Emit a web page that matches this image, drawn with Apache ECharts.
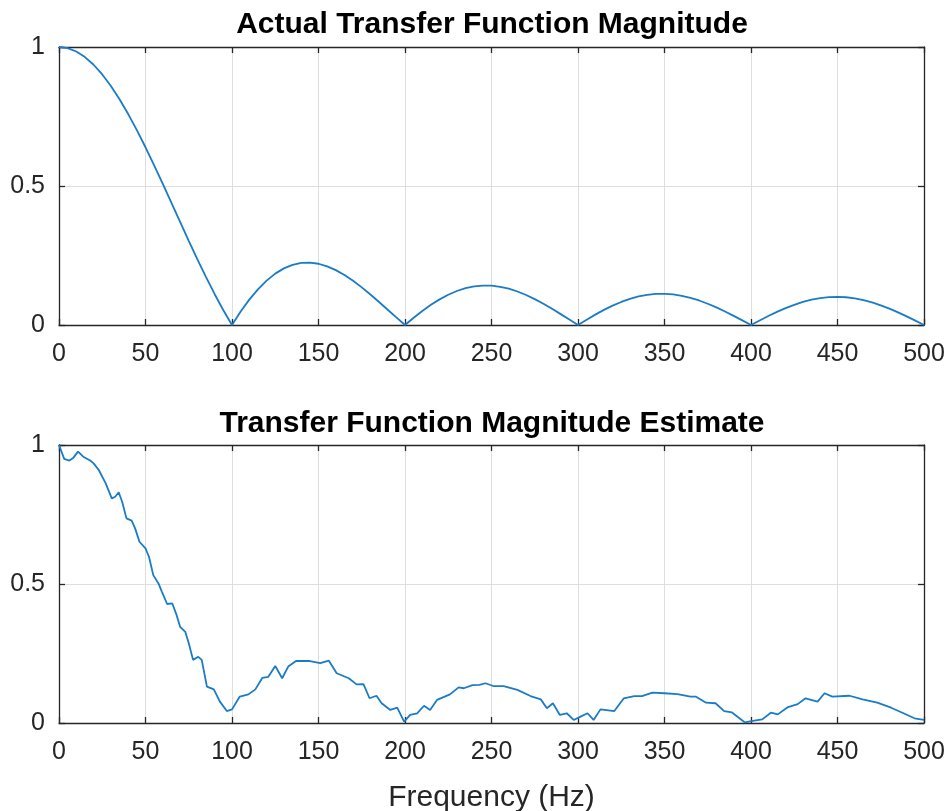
<!DOCTYPE html>
<html><head><meta charset="utf-8">
<script src="https://cdn.jsdelivr.net/npm/echarts@6/dist/echarts.min.js"></script>
<style>html,body{margin:0;padding:0;background:#fff}#c{width:951px;height:811px}</style>
</head><body><div id="c"></div><script>
const actualFreq = [0,5,10,15,20,25,30,35,40,45,50,55,60,65,70,75,80,85,90,95,100,
105,110,115,120,125,130,135,140,145,150,155,160,165,170,175,180,185,190,195,200,
205,210,215,220,225,230,235,240,245,250,255,260,265,270,275,280,285,290,295,300,
305,310,315,320,325,330,335,340,345,350,355,360,365,370,375,380,385,390,395,400,
405,410,415,420,425,430,435,440,445,450,455,460,465,470,475,480,485,490,495,500];
const actualMag = [1,0.9959,0.9838,0.9638,0.9361,0.9012,0.8597,0.8120,0.7588,0.7010,0.6393,0.5745,0.5076,0.4394,0.3709,0.3029,0.2364,0.1721,0.1108,0.0532,0,
0.0483,0.0912,0.1284,0.1597,0.1848,0.2037,0.2165,0.2234,0.2245,0.2203,0.2111,0.1974,0.1798,0.1589,0.1353,0.1097,0.0827,0.0550,0.0272,0,
0.0261,0.0504,0.0726,0.0922,0.1089,0.1223,0.1324,0.1389,0.1419,0.1414,0.1375,0.1305,0.1205,0.1079,0.0930,0.0763,0.0582,0.0391,0.0196,0,
0.0191,0.0374,0.0543,0.0696,0.0829,0.0940,0.1026,0.1085,0.1118,0.1122,0.1100,0.1051,0.0978,0.0882,0.0765,0.0632,0.0485,0.0328,0.0165,0,
0.0164,0.0322,0.0471,0.0607,0.0727,0.0829,0.0910,0.0968,0.1003,0.1013,0.0998,0.0959,0.0896,0.0813,0.0709,0.0589,0.0455,0.0309,0.0157,0];
const estFreq = [0,3,6,8,11,14,18,20,23,27,30.5,32.5,34.5,36.5,39,42,44,46.5,50,52,54.5,57.5,59.5,62.5,65.5,68,70,73,75,77.5,80.5,82.5,85.5,89.5,93,97,100,
104.5,109.5,113.5,117.5,121,125,129,132.5,137,145,151,156,160.5,167.5,172,176,179.5,183.5,186.5,191.5,195.5,199.5,
203,207,211,214.5,218.5,226,231,234,239,243,246.5,251,257,265,272.5,278.5,282,285.5,289.5,293.5,297.5,
301.5,305.5,309,313,321,326.5,332.5,337,343,350,357.5,365,368,374,379.5,384.5,389,396.5,
401,406.5,411.5,415.5,421,427,431.5,438.5,442.5,447,457,464.5,473,481,487.5,494.5,500];
const estMag = [1.0,0.95,0.944,0.952,0.976,0.958,0.944,0.934,0.91,0.862,0.808,0.814,0.83,0.796,0.736,0.728,0.70,0.652,0.628,0.598,0.532,0.502,0.472,0.428,0.43,0.388,0.346,0.328,0.287,0.227,0.238,0.227,0.131,0.121,0.077,0.043,0.049,
0.095,0.103,0.121,0.162,0.166,0.205,0.161,0.203,0.223,0.223,0.215,0.224,0.179,0.161,0.139,0.14,0.089,0.098,0.071,0.047,0.055,0.005,
0.029,0.035,0.062,0.047,0.083,0.103,0.128,0.125,0.136,0.137,0.143,0.133,0.133,0.119,0.097,0.085,0.053,0.071,0.029,0.035,0.011,
0.023,0.035,0.011,0.049,0.043,0.089,0.097,0.097,0.109,0.107,0.104,0.095,0.095,0.073,0.071,0.043,0.038,0.002,
0.008,0.013,0.037,0.031,0.056,0.068,0.089,0.077,0.107,0.095,0.098,0.085,0.073,0.055,0.037,0.017,0.011];
const titles = ['Actual Transfer Function Magnitude', 'Transfer Function Magnitude Estimate'];
const xLabel = 'Frequency (Hz)';

const FONT = '"Liberation Sans", Arial, Helvetica, sans-serif';
const AXC = '#262626';
const GRIDC = '#dedede';
const LINEC = '#1a7cc6';
const grids = [
  {left: 59, top: 47, width: 865, height: 278, outerBoundsMode: 'none', containLabel: false},
  {left: 59, top: 445, width: 865, height: 278, outerBoundsMode: 'none', containLabel: false}
];
function pairs(xs, ys) { return xs.map((x, i) => [x, ys[i]]); }

const xAxes = [], yAxes = [];
grids.forEach((g, i) => {
  xAxes.push({
    type: 'value', gridIndex: i, min: 0, max: 500, interval: 50, position: 'bottom',
    axisLine: {show: true, onZero: false, lineStyle: {color: AXC, width: 1.3}},
    axisTick: {show: true, inside: true, length: 6, lineStyle: {color: AXC, width: 1.3}},
    axisLabel: {show: true, color: AXC, fontSize: 25, fontFamily: FONT, margin: 17},
    splitLine: {show: true, lineStyle: {color: GRIDC, width: 1}},
    name: i === 1 ? xLabel : '', nameLocation: 'middle', nameGap: 60,
    nameTextStyle: {color: AXC, fontSize: 30, fontFamily: FONT}
  });
  xAxes.push({
    type: 'value', gridIndex: i, min: 0, max: 500, interval: 50, position: 'top',
    axisLine: {show: true, onZero: false, lineStyle: {color: AXC, width: 1.3}},
    axisTick: {show: true, inside: true, length: 6, lineStyle: {color: AXC, width: 1.3}},
    axisLabel: {show: false}, splitLine: {show: false}
  });
  yAxes.push({
    type: 'value', gridIndex: i, min: 0, max: 1, interval: 0.5, position: 'left',
    axisLine: {show: true, onZero: false, lineStyle: {color: AXC, width: 1.3}},
    axisTick: {show: true, inside: true, length: 6, lineStyle: {color: AXC, width: 1.3}},
    axisLabel: {show: true, color: AXC, fontSize: 25, fontFamily: FONT, margin: 14},
    splitLine: {show: true, lineStyle: {color: GRIDC, width: 1}}
  });
  yAxes.push({
    type: 'value', gridIndex: i, min: 0, max: 1, interval: 0.5, position: 'right',
    axisLine: {show: true, onZero: false, lineStyle: {color: AXC, width: 1.3}},
    axisTick: {show: true, inside: true, length: 6, lineStyle: {color: AXC, width: 1.3}},
    axisLabel: {show: false}, splitLine: {show: false}
  });
});

const chart = echarts.init(document.getElementById('c'), null, {renderer: 'canvas'});
chart.setOption({
  animation: false,
  backgroundColor: '#ffffff',
  title: titles.map((t, i) => ({
    text: t, left: 487, textAlign: 'center', top: i === 0 ? 5 : 404,
    textStyle: {fontSize: 30, fontWeight: 'bold', color: '#000', fontFamily: FONT}
  })),
  grid: grids,
  xAxis: xAxes,
  yAxis: yAxes,
  series: [
    {type: 'line', xAxisIndex: 0, yAxisIndex: 0, data: pairs(actualFreq, actualMag),
     showSymbol: false, lineStyle: {color: LINEC, width: 1.8}, clip: false},
    {type: 'line', xAxisIndex: 2, yAxisIndex: 2, data: pairs(estFreq, estMag),
     showSymbol: false, lineStyle: {color: LINEC, width: 1.8}, clip: false}
  ]
});
</script></body></html>
